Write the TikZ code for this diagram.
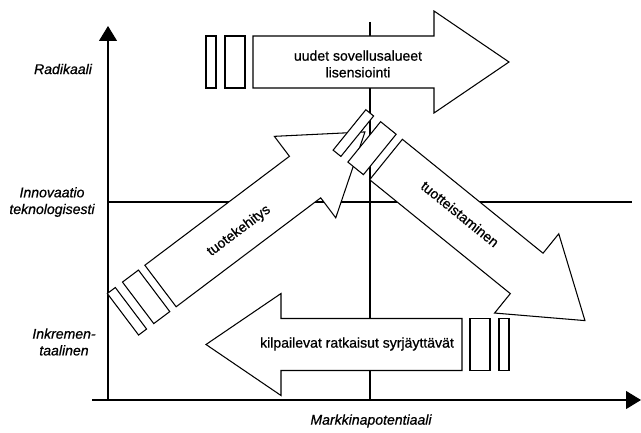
\documentclass[tikz,border=0pt]{standalone}
\usepackage{fontspec}
\setmainfont{Liberation Sans}[FakeBold=0.7]
\usetikzlibrary{arrows.meta}

\begin{document}
\begin{tikzpicture}[x=0.02cm,y=-0.02cm,
    outline/.style={draw,fill=white,line width=0.6pt},
    axislabel/.style={font=\fontsize{8}{9.5}\selectfont\itshape,align=center},
    arrowtext/.style={font=\fontsize{8}{9.5}\selectfont,align=center}]
    \useasboundingbox (0,0) rectangle (641,432);
    % Axes and dividing lines
    \coordinate (origin) at (108,400);
    \coordinate (ytop) at (108,26);
    \coordinate (xleft) at (92,400);
    \coordinate (xright) at (641,400);
    \draw[line width=0.6pt] (108,202) -- (632,202);
    \draw[line width=0.6pt] (370,22) -- (370,400);
    \draw[line width=0.6pt,-{Triangle[length=0.3cm,width=0.36cm]}] (origin) -- (ytop);
    \draw[line width=0.6pt,-{Triangle[length=0.3cm,width=0.36cm]}] (xleft) -- (xright);
    \node[axislabel] (radikaali) at (63,69) {Radikaali};
    \node[axislabel] (innovaatio) at (52,202) {Innovaatio\\teknologisesti};
    \node[axislabel] (inkrementaalinen) at (64,342) {Inkremen-\\taalinen};
    \node[axislabel] (markkina) at (371,421) {Markkinapotentiaali};
    % Block arrows: centre of tail end, angle
    \foreach \px/\py/\ang in {253/62/0, 462/344.5/180, 160.5/286/37, 386/159.5/-39} {
      \begin{scope}[shift={(\px,\py)},rotate=\ang]
        \draw[outline] (-47,-26) rectangle (-37,26);
        \draw[outline] (-28,-26) rectangle (-8,26);
        \draw[outline] (0,-26) -- (181,-26) -- (181,-51) -- (256,0) -- (181,51) -- (181,26) -- (0,26) -- cycle;
      \end{scope}
    }
    % Arrow texts
    \node[arrowtext] (uudet) at (358,64) {uudet sovellusalueet\\lisensiointi};
    \node[arrowtext] (kilpailevat) at (357,344) {kilpailevat ratkaisut syrjäyttävät};
    \node[arrowtext,rotate=37] (kehitys) at (239,231) {tuotekehitys};
    \node[arrowtext,rotate=-39] (tuotteistus) at (460,214) {tuotteistaminen};
\end{tikzpicture}
\end{document}
